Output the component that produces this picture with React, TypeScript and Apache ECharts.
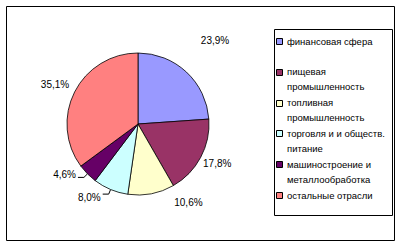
import React, { useEffect, useRef } from "react";
import * as echarts from "echarts";

const categories = [
  "финансовая сфера",
  "пищевая\nпромышленность",
  "топливная\nпромышленность",
  "торговля и и обществ.\nпитание",
  "машиностроение и\nметаллообработка",
  "остальные отрасли",
];
const values = [23.9, 17.8, 10.6, 8.0, 4.6, 35.1];
const colors = ["#9999FF", "#993366", "#FFFFCC", "#CCFFFF", "#660066", "#FF8080"];
const leaderShown = [false, false, false, true, true, false];
// small label nudges (px) to mimic the original label placement
const labelNudgeX = [0, -13, 11, 3, 3, 10];
const labelNudgeY = [-28, 4, 4, 3, -3, -5];

const FONT = "'Liberation Sans', Arial, sans-serif";

export default function App() {
  const ref = useRef<HTMLDivElement>(null);
  useEffect(() => {
    if (!ref.current) return;
    const chart = echarts.init(ref.current, null, { renderer: "svg" });

    const legendX = 274;
    const legendY = 29;
    const firstLine = 41;
    const step = 30.8;
    const legendChildren: any[] = [
      {
        type: "rect",
        shape: { x: legendX + 0.5, y: legendY + 0.5, width: 118, height: 186 },
        style: { fill: "#fff", stroke: "#000", lineWidth: 1 },
      },
    ];
    categories.forEach((name, i) => {
      const cy = firstLine + i * step;
      legendChildren.push({
        type: "rect",
        shape: { x: 276.5, y: Math.round(cy - 3) + 0.5, width: 6, height: 6 },
        style: { fill: colors[i], stroke: "#000", lineWidth: 1 },
      });
      legendChildren.push({
        type: "text",
        x: 287,
        y: cy - 7.5,
        style: {
          text: name,
          fill: "#000",
          font: `9.5px ${FONT}`,
          lineHeight: 15,
          verticalAlign: "top",
          align: "left",
        },
      });
    });

    chart.setOption({
      animation: false,
      backgroundColor: "#fff",
      graphic: [
        {
          type: "rect",
          shape: { x: 6.5, y: 6.5, width: 388, height: 234 },
          style: { fill: "none", stroke: "#000", lineWidth: 1 },
          z: -1,
        },
        ...legendChildren,
      ],
      series: [
        {
          type: "pie",
          center: [138, 124],
          radius: [0, 71],
          startAngle: 90,
          clockwise: true,
          avoidLabelOverlap: false,
          itemStyle: { borderColor: "#000", borderWidth: 0.8 },
          label: {
            show: true,
            position: "outside",
            color: "#000",
            fontFamily: FONT,
            fontSize: 10,
            formatter: (p: any) => p.value.toFixed(1).replace(".", ",") + "%",
          },
          labelLine: {
            show: false,
            length: 5,
            length2: 6,
            lineStyle: { color: "#000", width: 1 },
          },
          labelLayout: (p: any) => ({
            dx: labelNudgeX[p.dataIndex],
            dy: labelNudgeY[p.dataIndex],
          }),
          emphasis: { disabled: true },
          data: categories.map((name, i) => ({
            name,
            value: values[i],
            itemStyle: { color: colors[i] },
            labelLine: { show: leaderShown[i] },
          })),
        },
      ],
    });
    return () => chart.dispose();
  }, []);
  return (
    <div
      ref={ref}
      style={{ position: "fixed", left: 0, top: 0, width: 401, height: 247 }}
    />
  );
}
